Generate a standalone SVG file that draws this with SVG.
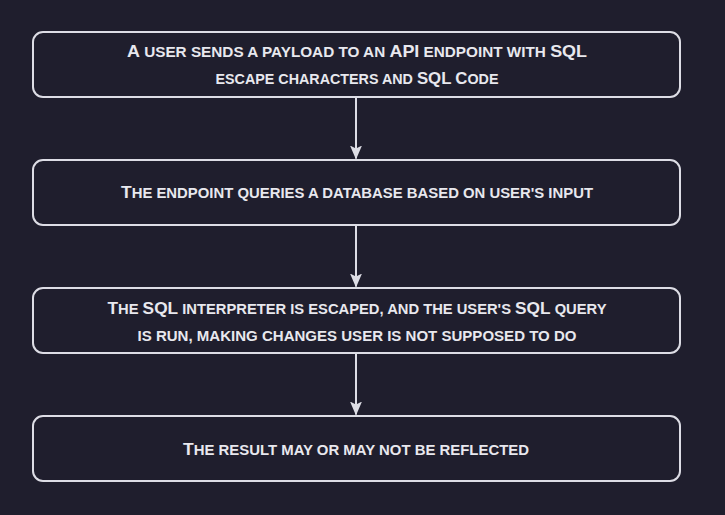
<svg xmlns="http://www.w3.org/2000/svg" width="725" height="515" viewBox="0 0 725 515">
  <defs>
    <style>
      .box { fill: none; stroke: #dddde5; stroke-width: 2; }
      .lbl { font-family: "Liberation Sans", "DejaVu Sans", sans-serif; font-size: 14.5px; text-transform: uppercase; fill: #e8e8ee; text-anchor: middle; font-weight: bold; }
      .cap { font-size: 17px; }
      .conn { stroke: #dddde5; stroke-width: 2; fill: none; }
    </style>
    <marker id="arrow" viewBox="0 0 14 12" refX="13" refY="6" markerWidth="14" markerHeight="12" markerUnits="userSpaceOnUse" orient="auto">
      <path d="M0,0 L14,6 L0,12 L3,6 Z" fill="#dddde5"/>
    </marker>
  </defs>
  <rect width="725" height="515" fill="#1f1e2d"/>

  <g id="connectors">
    <line class="conn" x1="356" y1="97" x2="356" y2="158.5" marker-end="url(#arrow)"/>
    <line class="conn" x1="356" y1="225" x2="356" y2="286.5" marker-end="url(#arrow)"/>
    <line class="conn" x1="356" y1="353" x2="356" y2="414.5" marker-end="url(#arrow)"/>
  </g>

  <g id="node1">
    <rect class="box" x="33" y="32" width="647" height="65" rx="10"/>
    <text class="lbl" x="357" y="57" textLength="460" lengthAdjust="spacingAndGlyphs"><tspan class="cap">A</tspan> user sends a payload to an <tspan class="cap">API</tspan> endpoint with <tspan class="cap">SQL</tspan></text>
    <text class="lbl" x="357" y="84" textLength="283" lengthAdjust="spacingAndGlyphs">escape characters and <tspan class="cap">SQL</tspan> <tspan class="cap">C</tspan>ode</text>
  </g>

  <g id="node2">
    <rect class="box" x="33" y="160" width="647" height="65" rx="10"/>
    <text class="lbl" x="357" y="198" textLength="472" lengthAdjust="spacingAndGlyphs"><tspan class="cap">T</tspan>he endpoint queries a database based on user's input</text>
  </g>

  <g id="node3">
    <rect class="box" x="33" y="288" width="647" height="65" rx="10"/>
    <text class="lbl" x="357" y="314" textLength="499" lengthAdjust="spacingAndGlyphs"><tspan class="cap">T</tspan>he <tspan class="cap">SQL</tspan> interpreter is escaped, and the user's <tspan class="cap">SQL</tspan> query</text>
    <text class="lbl" x="357" y="341" textLength="439" lengthAdjust="spacingAndGlyphs">is run, making changes user is not supposed to do</text>
  </g>

  <g id="node4">
    <rect class="box" x="33" y="416" width="647" height="65" rx="10"/>
    <text class="lbl" x="356" y="455" textLength="346" lengthAdjust="spacingAndGlyphs"><tspan class="cap">T</tspan>he result may or may not be reflected</text>
  </g>
</svg>
